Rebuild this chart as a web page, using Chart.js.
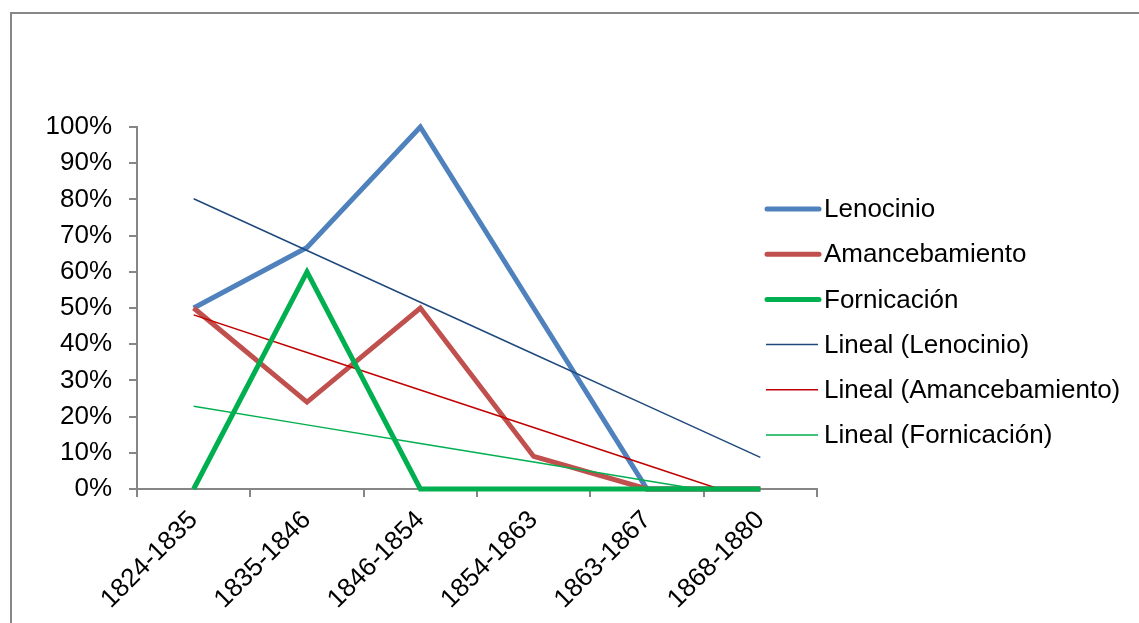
<!DOCTYPE html>
<html>
<head>
<meta charset="utf-8">
<script src="https://cdn.jsdelivr.net/npm/chart.js@4/dist/chart.umd.min.js"></script>
<style>
  html, body { margin: 0; padding: 0; background: #fff; overflow: hidden; }
  #wrap { position: relative; width: 1139px; height: 623px; }
  #frame {
    position: absolute; left: 10px; top: 12px; width: 1200px; height: 700px;
    border-left: 2px solid #878787; border-top: 2px solid #878787;
  }
  canvas { position: absolute; left: 0; top: 0; }
</style>
</head>
<body>
<div id="wrap">
  <div id="frame"></div>
  <canvas id="myChart" width="1139" height="623"></canvas>
</div>
<script>
const ctx = document.getElementById('myChart').getContext('2d');

const periods = ['1824-1835', '1835-1846', '1846-1854', '1854-1863', '1863-1867', '1868-1880'];
const lenocinio = [0.50, 0.667, 1.00, 0.50, 0.00, 0.00];
const amancebamiento = [0.50, 0.24, 0.50, 0.09, 0.00, 0.00];
const fornicacion = [0.00, 0.60, 0.00, 0.00, 0.00, 0.00];
const yTicks = [0, 0.1, 0.2, 0.3, 0.4, 0.5, 0.6, 0.7, 0.8, 0.9, 1];

const FONT = '"Liberation Sans", Arial, sans-serif';
const FONT_SIZE = 26;
const AXIS_GREY = '#868686';

// least squares line over the category index, like the spreadsheet "Lineal" trendline
function linearTrend(values) {
  const n = values.length;
  const xs = values.map((v, i) => i + 1);
  const mx = xs.reduce((a, b) => a + b, 0) / n;
  const my = values.reduce((a, b) => a + b, 0) / n;
  let sxy = 0, sxx = 0;
  xs.forEach((x, i) => {
    sxy += (x - mx) * (values[i] - my);
    sxx += (x - mx) * (x - mx);
  });
  const slope = sxy / sxx;
  return xs.map(x => my + slope * (x - mx));
}

const series = [
  {label: 'Lenocinio', data: lenocinio, color: '#4F81BD', width: 5, order: 5},
  {label: 'Amancebamiento', data: amancebamiento, color: '#C0504D', width: 5, order: 4},
  {label: 'Fornicación', data: fornicacion, color: '#00B050', width: 5, order: 0},
  {label: 'Lineal (Lenocinio)', data: linearTrend(lenocinio), color: '#1F497D', width: 1.5, order: 1},
  {label: 'Lineal (Amancebamiento)', data: linearTrend(amancebamiento), color: '#C00000', width: 1.5, order: 2},
  {label: 'Lineal (Fornicación)', data: linearTrend(fornicacion), color: '#00B050', width: 1.5, order: 3}
];

// legend drawn to the right, overlapping the end of the plot like the original
const sideLegend = {
  id: 'sideLegend',
  afterDraw(chart) {
    const c = chart.ctx;
    c.save();
    c.font = FONT_SIZE + 'px ' + FONT;
    c.textBaseline = 'middle';
    c.fillStyle = '#000';
    series.forEach((s, i) => {
      const y = 209 + i * 45.2;
      c.beginPath();
      c.strokeStyle = s.color;
      c.lineWidth = s.width;
      c.lineCap = s.width > 2 ? 'round' : 'butt';
      c.moveTo(s.width > 2 ? 767 : 766, y);
      c.lineTo(s.width > 2 ? 819 : 818, y);
      c.stroke();
      c.fillText(s.label, 824, y + 1);
    });
    c.restore();
  }
};

new Chart(ctx, {
  type: 'line',
  data: {
    labels: periods,
    datasets: series.map(s => ({
      label: s.label,
      data: s.data,
      borderColor: s.color,
      backgroundColor: s.color,
      borderWidth: s.width,
      pointRadius: 0,
      pointHoverRadius: 0,
      tension: 0,
      order: s.order,
      clip: s.width > 2 ? 4 : 0,
      borderJoinStyle: 'miter'
    }))
  },
  options: {
    responsive: false,
    animation: false,
    events: [],
    layout: {padding: {left: 20, top: 127, right: 322, bottom: 0}},
    plugins: {legend: {display: false}, tooltip: {enabled: false}},
    scales: {
      x: {
        offset: true,
        grid: {offset: true, drawOnChartArea: false, tickLength: 8, color: AXIS_GREY, lineWidth: 2},
        border: {color: AXIS_GREY, width: 2},
        ticks: {
          color: '#000', font: {family: FONT, size: FONT_SIZE}, padding: 8,
          minRotation: 45, maxRotation: 45, autoSkip: false
        },
        afterFit(scale) { scale.height = 134; }
      },
      y: {
        min: 0,
        max: 1,
        afterBuildTicks(scale) { scale.ticks = yTicks.map(v => ({value: v})); },
        grid: {drawOnChartArea: false, tickLength: 8, color: AXIS_GREY, lineWidth: 2},
        border: {color: AXIS_GREY, width: 2},
        ticks: {
          color: '#000', font: {family: FONT, size: FONT_SIZE}, padding: 17,
          callback: function(value) {
            return Math.round(value * 100) + '%';
          }
        },
        afterFit(scale) { scale.width = 117; }
      }
    }
  },
  plugins: [sideLegend]
});
</script>
</body>
</html>
